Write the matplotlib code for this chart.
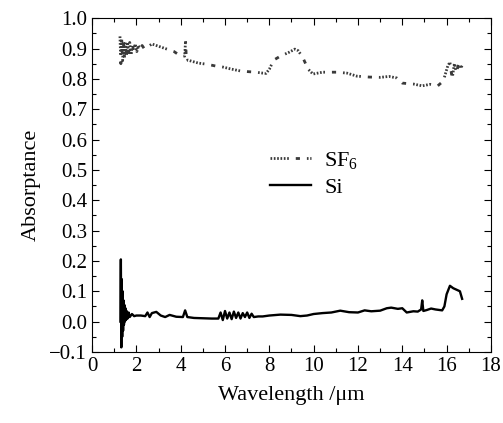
import matplotlib
matplotlib.use("Agg")
import matplotlib.pyplot as plt
import numpy as np
from matplotlib.ticker import MultipleLocator

plt.rcParams['font.family'] = ['Liberation Serif', 'DejaVu Serif']
plt.rcParams['mathtext.fontset'] = 'custom'
plt.rcParams['mathtext.rm'] = 'Liberation Serif'

# SF6 absorptance (wavelength in um)
sf6_wl = [1.26, 1.30, 1.34, 1.38, 1.42, 1.46, 1.50, 1.55, 1.60, 1.65, 1.70, 1.76, 1.82, 1.88, 1.95,
          2.02, 2.10, 2.18, 2.26, 2.35, 2.5, 2.7, 2.9, 3.1, 3.3, 3.5, 3.7, 3.9, 4.1, 4.18, 4.22, 4.26, 4.32,
          4.5, 4.8, 5.2, 5.6, 5.9, 6.3, 6.7, 7.0, 7.4, 7.7, 7.85,
          8.0, 8.2, 8.5, 8.9, 9.15, 9.3, 9.5, 9.75, 9.97, 10.4, 11.05, 11.5, 11.95, 12.5, 13.0, 13.4, 13.75,
          14.0, 14.5, 14.9, 15.25, 15.6, 15.85, 16.05, 16.15, 16.25, 16.35, 16.45, 16.55, 16.65, 16.7]
sf6_abs = [0.94, 0.85, 0.93, 0.86, 0.93, 0.87, 0.92, 0.87, 0.92, 0.88, 0.92, 0.88, 0.915, 0.89, 0.915,
           0.89, 0.91, 0.895, 0.91, 0.90, 0.905, 0.915, 0.91, 0.905, 0.90, 0.895, 0.89, 0.88, 0.876, 0.875, 0.925, 0.86, 0.862,
           0.858, 0.852, 0.848, 0.842, 0.839, 0.832, 0.826, 0.824, 0.822, 0.819, 0.818,
           0.832, 0.862, 0.875, 0.888, 0.898, 0.893, 0.872, 0.832, 0.816, 0.822, 0.822, 0.819, 0.809, 0.806, 0.805, 0.808, 0.803,
           0.786, 0.783, 0.777, 0.782, 0.777, 0.793, 0.842, 0.855, 0.80, 0.85, 0.82, 0.855, 0.835, 0.845]

# Si absorptance
si_wl = [1.28, 1.30, 1.32, 1.34, 1.36, 1.38, 1.40, 1.42, 1.44, 1.46, 1.48, 1.50, 1.53, 1.56, 1.60, 1.65,
         1.70, 1.8, 1.9, 2.0, 2.2, 2.4, 2.5, 2.6, 2.7, 2.9, 3.1, 3.3, 3.5, 3.8, 4.1, 4.2, 4.3, 4.6, 5.0, 5.4,
         5.7, 5.8, 5.9, 6.0, 6.1, 6.2, 6.3, 6.4, 6.5, 6.6, 6.7, 6.8, 6.9, 7.0, 7.1, 7.2, 7.3, 7.5,
         7.7, 8.0, 8.5, 9.0, 9.4, 9.7, 10.0, 10.4, 10.8, 11.2, 11.6, 12.0, 12.3, 12.6, 13.0, 13.3, 13.5,
         13.8, 14.0, 14.2, 14.5, 14.7, 14.85, 14.9, 14.95, 15.1, 15.3, 15.5, 15.8, 15.9, 16.0, 16.15,
         16.3, 16.45, 16.6, 16.7]
si_abs = [0.0, 0.205, -0.085, 0.14, -0.05, 0.10, -0.03, 0.07, -0.01, 0.055, 0.0, 0.045, 0.005, 0.035, 0.01, 0.03,
          0.015, 0.025, 0.018, 0.02, 0.02, 0.018, 0.03, 0.015, 0.028, 0.032, 0.02, 0.015, 0.022, 0.016, 0.015, 0.037, 0.015,
          0.012, 0.011, 0.01,
          0.01, 0.03, 0.005, 0.035, 0.01, 0.03, 0.008, 0.033, 0.012, 0.03, 0.01, 0.028, 0.015, 0.03, 0.012, 0.026, 0.015, 0.017,
          0.017, 0.02, 0.023, 0.022, 0.018, 0.02, 0.025, 0.028, 0.03, 0.036, 0.031, 0.03, 0.037, 0.034, 0.036, 0.044, 0.046,
          0.042, 0.044, 0.03, 0.034, 0.033, 0.04, 0.07, 0.035, 0.038, 0.043, 0.04, 0.037, 0.05, 0.09, 0.118,
          0.11, 0.105, 0.1, 0.075]

x_ticks = [0, 2, 4, 6, 8, 10, 12, 14, 16, 18]
y_ticks = [-0.1, 0.0, 0.1, 0.2, 0.3, 0.4, 0.5, 0.6, 0.7, 0.8, 0.9, 1.0]

fig = plt.figure(figsize=(5.03, 4.23), dpi=100)
ax = fig.add_axes([0.183, 0.168, 0.793, 0.789])

sf6_style = (0, (0.6, 0.6, 0.6, 0.6, 0.6, 0.6, 0.6, 0.6, 0.6, 0.6, 0.6, 2.5, 1.5, 2.5))
ax.plot(sf6_wl, sf6_abs, color='#3a3a3a', lw=2.0, linestyle=sf6_style, label=r'SF$_6$')
ax.plot(si_wl, si_abs, color='black', lw=1.7, label='Si')

ax.set_xlim(0, 18)
ax.set_ylim(-0.1, 1.0)
ax.set_xticks(x_ticks)
ax.set_yticks(y_ticks)
ax.set_yticklabels([('\u2212%.1f' % abs(v)) if v < 0 else '%.1f' % v for v in y_ticks])
ax.xaxis.set_minor_locator(MultipleLocator(1))
ax.yaxis.set_minor_locator(MultipleLocator(0.05))
ax.tick_params(which='both', direction='in', top=True, right=True, labelsize=15, width=0.8)
ax.tick_params(which='major', length=5)
ax.tick_params(which='minor', length=3)
for s in ax.spines.values():
    s.set_linewidth(0.8)

ax.set_xlabel('Wavelength /\u03bcm', fontsize=16, labelpad=7)
ax.set_ylabel('Absorptance', fontsize=16, labelpad=6)

ax.legend(loc='upper left', bbox_to_anchor=(0.395, 0.665), frameon=False, fontsize=16,
          handlelength=1.85, handletextpad=0.6, labelspacing=0.25)

fig.savefig('out.png', dpi=100)
